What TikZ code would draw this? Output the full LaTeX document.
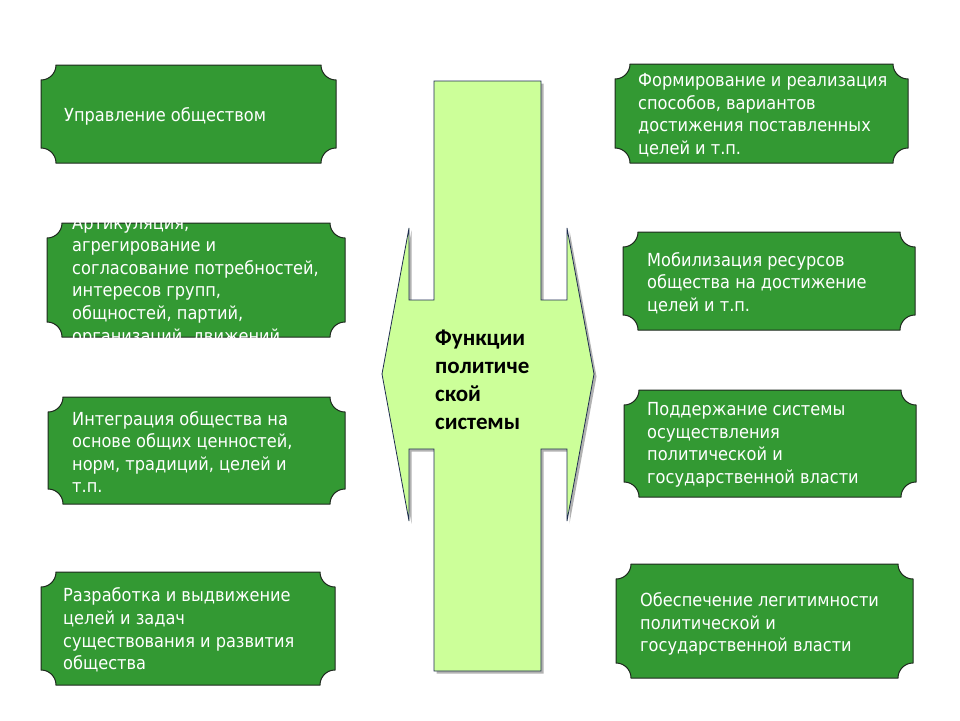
\documentclass[tikz,border=0pt]{standalone}
\usepackage{fontspec}
\setmainfont{DejaVu Sans Condensed}
\newfontfamily\titlefont{Carlito}
\usetikzlibrary{shadows}
\definecolor{boxgreen}{RGB}{51,153,51}
\definecolor{boxline}{RGB}{30,40,30}
\definecolor{lightgreen}{RGB}{204,255,153}
\definecolor{navyline}{RGB}{31,45,80}
\newcommand\plqshape[4]{%
  \draw[plaquestyle] (#1+15,#2) -- (#3-15,#2)
    .. controls (#3-15,#2+8.3) and (#3-8.3,#2+15) .. (#3,#2+15)
    -- (#3,#4-15)
    .. controls (#3-8.3,#4-15) and (#3-15,#4-8.3) .. (#3-15,#4)
    -- (#1+15,#4)
    .. controls (#1+15,#4-8.3) and (#1+8.3,#4-15) .. (#1,#4-15)
    -- (#1,#2+15)
    .. controls (#1+8.3,#2+15) and (#1+15,#2+8.3) .. (#1+15,#2) -- cycle;}
\begin{document}
\begin{tikzpicture}[x=1pt,y=-1pt,
  plaquestyle/.style={fill=boxgreen,draw=boxline,line width=1pt},
  boxtext/.style={anchor=west,align=left,inner sep=0pt,text=white,
    font=\fontsize{18}{22.6}\selectfont},
  centershape/.style={fill=lightgreen,draw=navyline,line width=0.8pt,
    drop shadow={shadow xshift=2.5pt,shadow yshift=-2.5pt,opacity=0.6,fill=gray}},
  titletext/.style={anchor=west,align=left,inner sep=0pt,text=black,
    font=\titlefont\bfseries\fontsize{23}{28}\selectfont}]
\useasboundingbox (0,0) rectangle (960,720);
\fill[white] (0,0) rectangle (960,720);

% central shape
\path[centershape] (434,81) -- (541,81) -- (541,300) -- (567,300) -- (567,228)
  -- (594,374) -- (567,521) -- (567,449) -- (541,449) -- (541,671)
  -- (434,671) -- (434,449) -- (409,449) -- (409,521) -- (382,374)
  -- (409,228) -- (409,300) -- (434,300) -- cycle;
\node[titletext] (title) at (435,380) {Функции\\политиче\\ской\\системы};

% left boxes
\plqshape{41}{65}{336}{163}
\node[boxtext] (l1) at (64,116) {Управление обществом};

\plqshape{47}{223}{345}{337}
\node[boxtext] (l2) at (72,281) {Артикуляция,\\агрегирование и\\согласование потребностей,\\интересов групп,\\общностей, партий,\\организаций, движений};

\plqshape{48}{397}{345}{504}
\node[boxtext] (l3) at (72,452) {Интеграция общества на\\основе общих ценностей,\\норм, традиций, целей и\\т.п.};

\plqshape{41}{572}{335}{685}
\node[boxtext] (l4) at (63,630) {Разработка и выдвижение\\целей и задач\\существования и развития\\общества};

% right boxes
\plqshape{615}{64}{908}{163}
\node[boxtext] (r1) at (638,115) {Формирование и реализация\\способов, вариантов\\достижения поставленных\\целей и т.п.};

\plqshape{623}{232}{915}{330}
\node[boxtext] (r2) at (647,283) {Мобилизация ресурсов\\общества на достижение\\целей и т.п.};

\plqshape{624}{390}{916}{497}
\node[boxtext] (r3) at (647,445) {Поддержание системы\\осуществления\\политической и\\государственной власти};

\plqshape{616}{564}{913}{678}
\node[boxtext] (r4) at (640,624) {Обеспечение легитимности\\политической и\\государственной власти};
\end{tikzpicture}
\end{document}
